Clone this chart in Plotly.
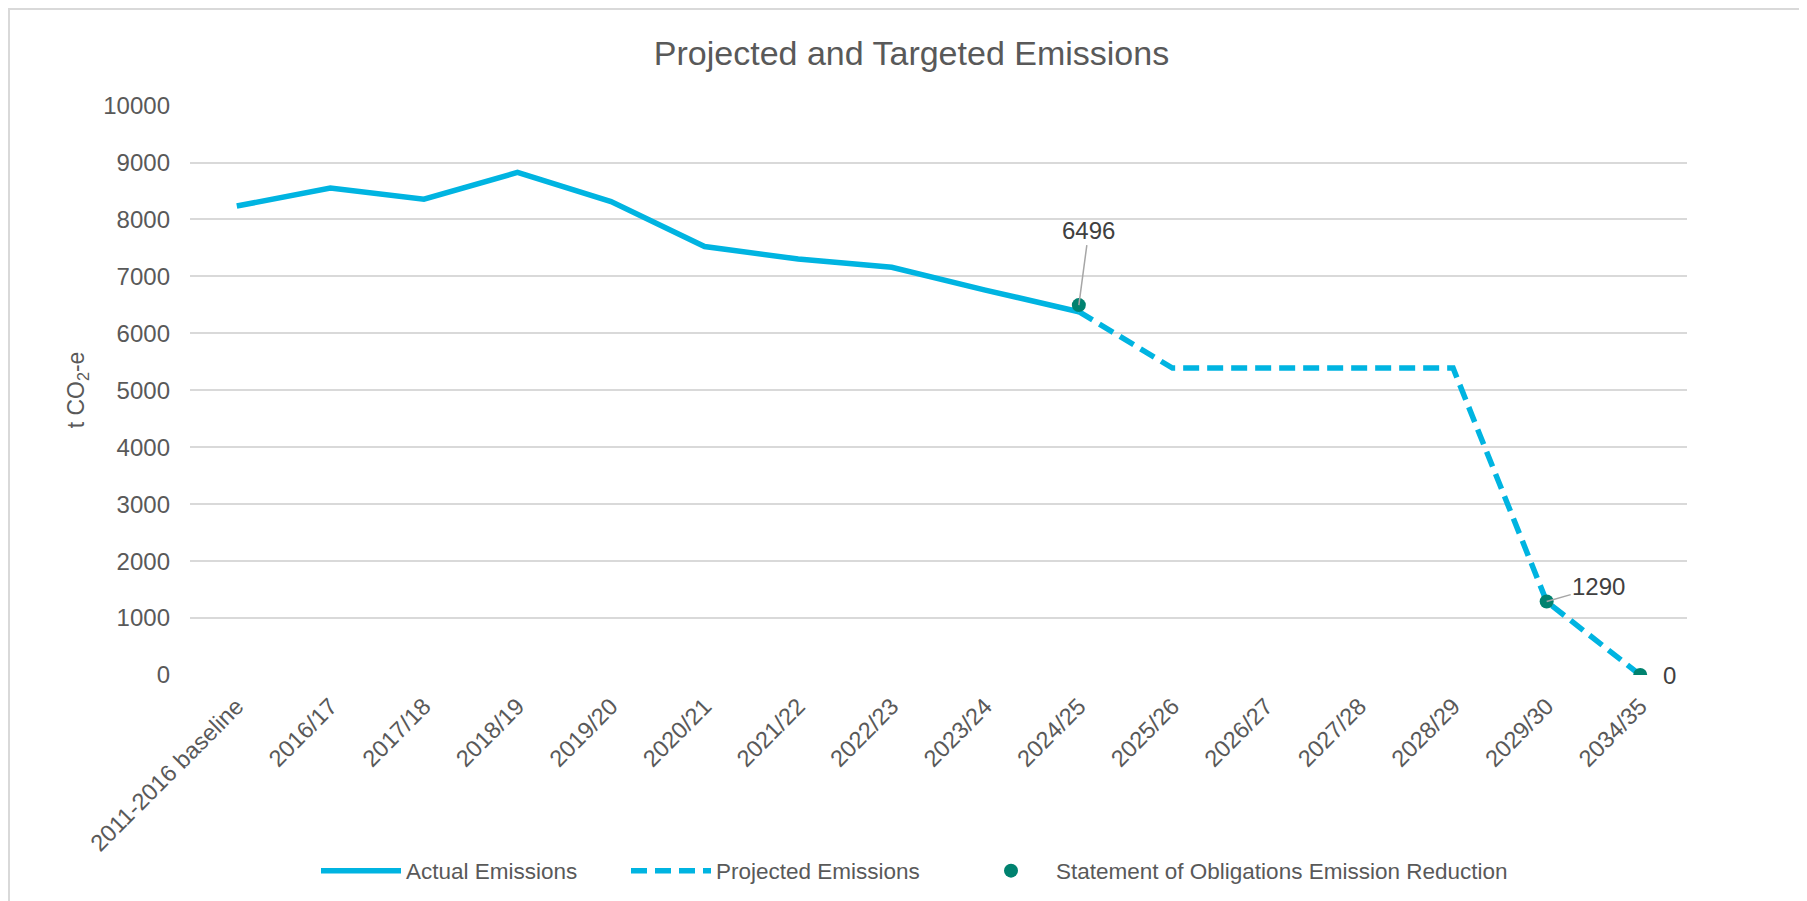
import plotly.graph_objects as go

categories = ["2011-2016 baseline", "2016/17", "2017/18", "2018/19", "2019/20", "2020/21",
              "2021/22", "2022/23", "2023/24", "2024/25", "2025/26", "2026/27",
              "2027/28", "2028/29", "2029/30", "2034/35"]
actual = [8235, 8550, 8355, 8825, 8315, 7525, 7305, 7160, 6760, 6380,
          None, None, None, None, None, None]
projected = [None, None, None, None, None, None, None, None, None, 6380,
             5390, 5390, 5390, 5390, 1290, 0]
obligations = [None, None, None, None, None, None, None, None, None, 6496,
               None, None, None, None, 1290, 0]
y_ticks = [0, 1000, 2000, 3000, 4000, 5000, 6000, 7000, 8000, 9000, 10000]
y_ticktext = [str(v) for v in y_ticks]

FONT = "Liberation Sans, Arial, sans-serif"
LINE_COLOR = "#00B4E1"
MARK_COLOR = "#00826F"
GRAY = "#595959"
DARK = "#404040"

W, H = 1807, 901
L, R, T, B = 182, 128, 97, 234
PW, PH = W - L - R, H - T - B

xs = list(range(len(categories)))

fig = go.Figure()
fig.add_trace(go.Scatter(x=xs, y=actual, mode="lines", name="Actual Emissions",
                         line=dict(color=LINE_COLOR, width=5.5), hoverinfo="skip",
                         legend="legend"))
fig.add_trace(go.Scatter(x=xs, y=projected, mode="lines", name="Projected Emissions",
                         line=dict(color=LINE_COLOR, width=5.5, dash="16px,8px"),
                         hoverinfo="skip", legend="legend2"))
fig.add_trace(go.Scatter(x=xs, y=obligations, mode="markers",
                         name="Statement of Obligations Emission Reduction",
                         marker=dict(color=MARK_COLOR, size=14), hoverinfo="skip",
                         legend="legend3"))

# data labels
label_offsets = {9: dict(ax=10, ay=-75, showarrow=True),
                 14: dict(ax=52, ay=-15, showarrow=True),
                 15: dict(ax=29, ay=0, showarrow=False)}
for i, v in enumerate(obligations):
    if v is None:
        continue
    o = label_offsets[i]
    if o["showarrow"]:
        fig.add_annotation(x=xs[i], y=v, text=str(v), showarrow=True, arrowhead=0,
                           arrowwidth=1.5, arrowcolor="#A6A6A6", ax=o["ax"], ay=o["ay"],
                           standoff=0, font=dict(family=FONT, size=24, color=DARK))
    else:
        fig.add_annotation(x=xs[i], y=v, text=str(v), showarrow=False, xshift=o["ax"],
                           font=dict(family=FONT, size=24, color=DARK))

# chart border
fig.add_shape(type="rect", xref="paper", yref="paper",
              x0=-(L - 1) / PW, x1=1 + (R - 2) / PW,
              y0=-(B - 3) / PH, y1=1 + (T - 1) / PH,
              line=dict(color="#D9D9D9", width=2), layer="below")


def lx(px):
    return (px - L) / PW


leg_y = (H - B - 863) / PH
leg_common = dict(orientation="h", yanchor="middle", y=leg_y, xanchor="left",
                  font=dict(family=FONT, size=22.5, color=GRAY), itemwidth=80,
                  bgcolor="rgba(0,0,0,0)", borderwidth=0)

fig.update_layout(
    width=W, height=H,
    margin=dict(l=L, r=R, t=T, b=B, autoexpand=False),
    paper_bgcolor="white", plot_bgcolor="white",
    font=dict(family=FONT, color=GRAY, size=24),
    title=dict(text="Projected and Targeted Emissions", x=0.5, xanchor="center",
               y=1 - 45 / H, yanchor="middle", yref="container",
               font=dict(family=FONT, size=34, color=GRAY)),
    showlegend=True,
    legend=dict(x=lx(308), **leg_common),
    legend2=dict(x=lx(618), **leg_common),
    legend3=dict(x=lx(958), **leg_common),
    xaxis=dict(range=[-0.5, 15.5], tickmode="array", tickvals=xs, ticktext=categories,
               tickangle=-45, showgrid=False, zeroline=False, showline=False,
               ticks="", tickfont=dict(family=FONT, size=23.5, color=GRAY),
               ticklabelstandoff=12, fixedrange=True),
    yaxis=dict(range=[0, 10010], tickmode="array", tickvals=y_ticks, ticktext=y_ticktext,
               showgrid=True, gridcolor="#D9D9D9", gridwidth=1.7, zeroline=False,
               showline=False, ticks="", tickfont=dict(family=FONT, size=24, color=GRAY),
               ticklabelstandoff=19,
               title=dict(text="t CO<sub>2</sub>-e", font=dict(family=FONT, size=23, color=GRAY),
                          standoff=12),
               fixedrange=True),
)

fig.write_html("out.html")
